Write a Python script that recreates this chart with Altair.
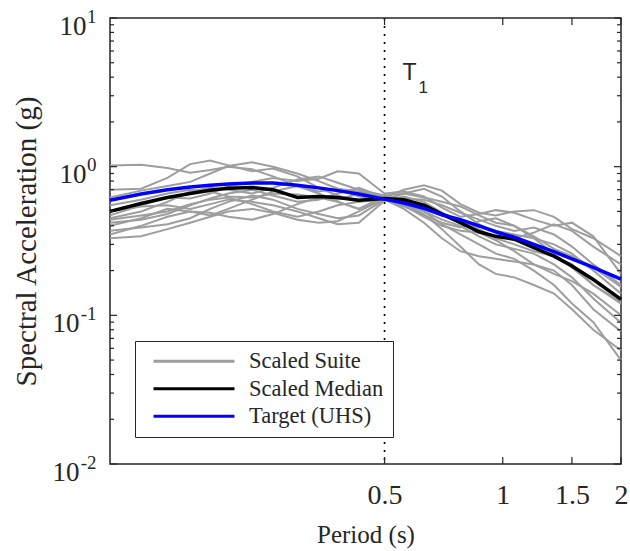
import altair as alt
import pandas as pd

# ---------------- data ----------------
periods = [0.1, 0.12, 0.14, 0.16, 0.18, 0.2, 0.23, 0.26, 0.3, 0.34, 0.38, 0.43, 0.5,
           0.56, 0.63, 0.7, 0.78, 0.87, 0.96, 1.07, 1.2, 1.35, 1.5, 1.7, 2.0]

suite_01 = [1.02, 1.03, 0.98, 0.91, 0.95, 1.00, 0.96, 0.86, 0.74, 0.68, 0.71, 0.68, 0.63, 0.61, 0.60, 0.55, 0.49, 0.44, 0.40, 0.37, 0.39, 0.35, 0.29, 0.22, 0.16]
suite_02 = [0.70, 0.71, 0.84, 1.04, 1.10, 1.02, 0.93, 0.97, 0.86, 0.72, 0.64, 0.58, 0.62, 0.70, 0.75, 0.69, 0.56, 0.49, 0.47, 0.50, 0.51, 0.46, 0.38, 0.33, 0.25]
suite_03 = [0.62, 0.69, 0.74, 0.79, 0.90, 1.01, 1.07, 1.00, 0.90, 0.80, 0.71, 0.63, 0.60, 0.66, 0.71, 0.63, 0.50, 0.41, 0.36, 0.33, 0.36, 0.41, 0.37, 0.29, 0.22]
suite_04 = [0.47, 0.55, 0.62, 0.61, 0.66, 0.74, 0.79, 0.84, 0.80, 0.83, 0.93, 0.90, 0.66, 0.68, 0.63, 0.53, 0.46, 0.48, 0.51, 0.49, 0.44, 0.40, 0.42, 0.34, 0.19]
suite_05 = [0.45, 0.50, 0.58, 0.68, 0.72, 0.70, 0.66, 0.72, 0.82, 0.86, 0.78, 0.70, 0.64, 0.58, 0.52, 0.47, 0.44, 0.38, 0.33, 0.30, 0.27, 0.25, 0.22, 0.16, 0.12]
suite_06 = [0.42, 0.44, 0.48, 0.55, 0.61, 0.66, 0.70, 0.64, 0.58, 0.60, 0.66, 0.72, 0.62, 0.55, 0.46, 0.40, 0.37, 0.36, 0.32, 0.27, 0.22, 0.19, 0.17, 0.14, 0.10]
suite_07 = [0.40, 0.45, 0.52, 0.50, 0.47, 0.52, 0.60, 0.68, 0.74, 0.66, 0.58, 0.52, 0.61, 0.57, 0.50, 0.44, 0.40, 0.34, 0.30, 0.28, 0.26, 0.22, 0.18, 0.13, 0.089]
suite_08 = [0.37, 0.39, 0.41, 0.45, 0.52, 0.58, 0.64, 0.60, 0.52, 0.48, 0.45, 0.47, 0.60, 0.52, 0.42, 0.33, 0.27, 0.25, 0.24, 0.23, 0.22, 0.20, 0.16, 0.11, 0.078]
suite_09 = [0.35, 0.40, 0.46, 0.50, 0.49, 0.46, 0.44, 0.48, 0.56, 0.62, 0.58, 0.52, 0.63, 0.56, 0.48, 0.38, 0.29, 0.22, 0.19, 0.18, 0.16, 0.14, 0.11, 0.080, 0.058]
suite_10 = [0.33, 0.34, 0.38, 0.42, 0.46, 0.50, 0.52, 0.49, 0.44, 0.42, 0.43, 0.50, 0.61, 0.59, 0.50, 0.41, 0.35, 0.30, 0.26, 0.24, 0.20, 0.16, 0.12, 0.090, 0.050]
suite_11 = [0.50, 0.54, 0.55, 0.52, 0.56, 0.60, 0.58, 0.55, 0.50, 0.45, 0.41, 0.42, 0.59, 0.63, 0.58, 0.49, 0.43, 0.40, 0.37, 0.35, 0.33, 0.30, 0.26, 0.20, 0.14]
suite_12 = [0.55, 0.60, 0.66, 0.70, 0.68, 0.63, 0.62, 0.66, 0.65, 0.62, 0.60, 0.66, 0.64, 0.66, 0.62, 0.58, 0.54, 0.47, 0.42, 0.40, 0.34, 0.28, 0.25, 0.21, 0.155]
suite_13 = [0.44, 0.47, 0.50, 0.56, 0.60, 0.62, 0.56, 0.50, 0.46, 0.50, 0.55, 0.58, 0.60, 0.54, 0.47, 0.42, 0.39, 0.43, 0.45, 0.40, 0.33, 0.26, 0.21, 0.16, 0.123]
suite = [suite_01, suite_02, suite_03, suite_04, suite_05, suite_06, suite_07,
         suite_08, suite_09, suite_10, suite_11, suite_12, suite_13]

median = [0.50, 0.565, 0.62, 0.66, 0.695, 0.715, 0.725, 0.70, 0.62, 0.63, 0.62, 0.595, 0.61,
          0.60, 0.55, 0.48, 0.42, 0.365, 0.34, 0.325, 0.285, 0.25, 0.215, 0.174, 0.128]
target = [0.595, 0.655, 0.70, 0.73, 0.75, 0.765, 0.775, 0.775, 0.75, 0.72, 0.69, 0.655, 0.605,
          0.57, 0.525, 0.475, 0.44, 0.40, 0.365, 0.335, 0.30, 0.268, 0.24, 0.21, 0.175]

series_names = ["Scaled Suite", "Scaled Median", "Target (UHS)"]
series_colors = ["#9e9e9e", "#000000", "#0000ff"]

x_ticks = [0.5, 1, 1.5, 2]
y_major = [0.01, 0.1, 1, 10]
y_major_pos = [1, 10]          # decades with a one-character exponent
y_major_neg = [0.01, 0.1]      # decades with a two-character exponent
y_minor = [m * d for d in (0.01, 0.1, 1) for m in range(2, 10)]

t1_period = 0.5
t1_label_sa = 3.83

# ---------------- styling ----------------
FONT = "Liberation Serif"
INK = "#262626"
W, H = 511, 446

rows = []
for i, rec in enumerate(suite):
    for p, v in zip(periods, rec):
        rows.append({"period": p, "sa": v, "series": series_names[0], "rec": f"s{i}"})
for p, v in zip(periods, median):
    rows.append({"period": p, "sa": v, "series": series_names[1], "rec": "median"})
for p, v in zip(periods, target):
    rows.append({"period": p, "sa": v, "series": series_names[2], "rec": "target"})
df = pd.DataFrame(rows)

xscale = alt.Scale(type="log", domain=[0.1, 2], nice=False)
yscale = alt.Scale(type="log", domain=[0.01, 10], nice=False)
cscale = alt.Scale(domain=series_names, range=series_colors)

legend = alt.Legend(
    title=None, orient="none", legendX=25, legendY=323,
    symbolType="stroke", symbolSize=6561, symbolStrokeWidth=3, clipHeight=22.5,
    labelFont=FONT, labelFontSize=22.5, labelColor=INK, labelOffset=13,
    symbolOffset=8, padding=9, rowPadding=4.5,
    strokeColor=INK, fillColor="white", cornerRadius=0,
)

x_axis = alt.Axis(
    values=x_ticks, format="~g", title="Period (s)",
    labelFont=FONT, labelFontSize=28, labelColor=INK, labelPadding=17,
    labelFlush=False, labelOverlap=False,
    titleFont=FONT, titleFontSize=25, titleFontWeight="normal", titleColor=INK,
    titleY=78, titleBaseline="alphabetic",
    ticks=False, domain=False, grid=False,
)

common_y = dict(
    orient="left", labelFont=FONT, labelColor=INK, labelBaseline="middle",
    labelAlign="right", labelOverlap=False, labelFlush=False,
    ticks=False, domain=False, grid=False,
)

y_axis_base = alt.Axis(
    values=y_major_pos, labelExpr="'10'", labelFontSize=27, labelPadding=24, labelOffset=8,
    title="Spectral Acceleration (g)", titleFont=FONT, titleFontSize=29,
    titleFontWeight="normal", titleColor=INK, titleX=-75, titleY=H / 2,
    titleBaseline="alphabetic", titleAlign="center", **common_y,
)
y_axis_base_neg = alt.Axis(
    values=y_major_neg, labelExpr="'10'", labelFontSize=27, labelPadding=31, labelOffset=8,
    title=None, **common_y,
)
y_axis_exp = alt.Axis(
    values=y_major, labelExpr="'' + round(log(datum.value) / LN10)",
    labelFontSize=19, labelPadding=14, labelOffset=-2, title=None, **common_y,
)

X = alt.X("period:Q", scale=xscale, axis=x_axis)
Xn = alt.X("period:Q", scale=xscale, axis=None)
Yn = alt.Y("sa:Q", scale=yscale, axis=None)

base = alt.Chart(df)

gray = base.transform_filter(alt.datum.series == series_names[0]).mark_line(strokeWidth=2).encode(
    x=X, y=alt.Y("sa:Q", scale=yscale, axis=y_axis_base),
    color=alt.Color("series:N", scale=cscale, legend=legend),
    detail="rec:N",
)
black = base.transform_filter(alt.datum.series == series_names[1]).mark_line(strokeWidth=3.5).encode(
    x=Xn, y=Yn, color=alt.Color("series:N", scale=cscale, legend=legend),
)
blue = base.transform_filter(alt.datum.series == series_names[2]).mark_line(strokeWidth=3.5).encode(
    x=Xn, y=Yn, color=alt.Color("series:N", scale=cscale, legend=legend),
)

t1_df = pd.DataFrame({"period": [t1_period], "sa": [t1_label_sa]})
t1_line = alt.Chart(t1_df).mark_rule(strokeDash=[2, 6], strokeWidth=1.6, color="black").encode(x=Xn)
t1_text = alt.Chart(t1_df).mark_text(
    text="T", font="Liberation Sans", fontSize=23, align="left", baseline="alphabetic",
    dx=18, color=INK).encode(x=Xn, y=Yn)
t1_sub = alt.Chart(t1_df).mark_text(
    text="1", font="Liberation Sans", fontSize=17, align="left", baseline="alphabetic",
    dx=34, dy=13, color=INK).encode(x=Xn, y=Yn)

minor_df = pd.DataFrame({"v": y_minor})
major_df = pd.DataFrame({"v": y_major})
xt_df = pd.DataFrame({"v": x_ticks})

tick_style = dict(color=INK, strokeWidth=1.2)
Yv = alt.Y("v:Q", scale=yscale, axis=None)
Xv = alt.X("v:Q", scale=xscale, axis=None)

minor_left = alt.Chart(minor_df).mark_rule(**tick_style).encode(y=Yv, x=alt.value(0), x2=alt.value(4))
minor_right = alt.Chart(minor_df).mark_rule(**tick_style).encode(y=Yv, x=alt.value(W - 4), x2=alt.value(W))
major_left = alt.Chart(major_df).mark_rule(**tick_style).encode(
    y=alt.Y("v:Q", scale=yscale, axis=y_axis_exp), x=alt.value(0), x2=alt.value(7))
major_right = alt.Chart(major_df).mark_rule(**tick_style).encode(
    y=alt.Y("v:Q", scale=yscale, axis=y_axis_base_neg), x=alt.value(W - 7), x2=alt.value(W))
xt_bottom = alt.Chart(xt_df).mark_rule(**tick_style).encode(x=Xv, y=alt.value(H - 7), y2=alt.value(H))
xt_top = alt.Chart(xt_df).mark_rule(**tick_style).encode(x=Xv, y=alt.value(0), y2=alt.value(7))

chart = alt.layer(
    t1_line, gray, black, blue,
    minor_left, minor_right, major_left, major_right, xt_bottom, xt_top,
    t1_text, t1_sub,
).resolve_axis(x="independent", y="independent").properties(
    width=W, height=H,
    padding={"left": 110, "top": 18, "right": 9, "bottom": 87},
    autosize="none",
    background="white",
).configure_view(stroke=INK, strokeWidth=1.5)

chart.save("out.html", embed_options={"renderer": "svg", "actions": False})
